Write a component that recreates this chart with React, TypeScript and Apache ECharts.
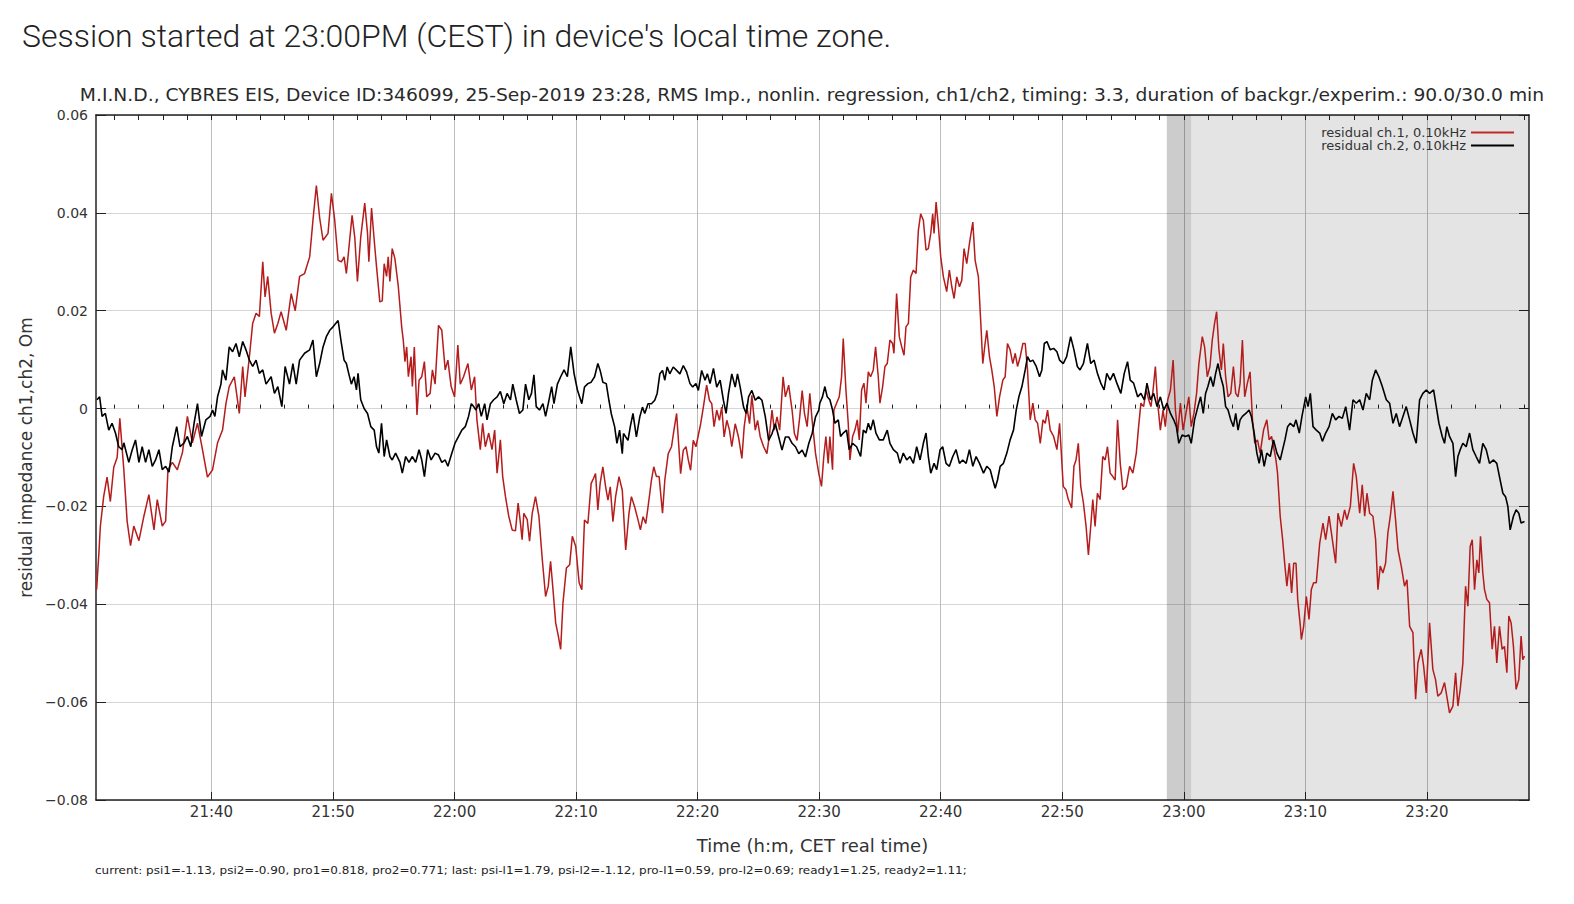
import React, { useEffect, useRef } from "react";
import * as echarts from "echarts";

// minutes after 21:30 (CET) -> residual impedance
const ch1: [number, number][] = [
  [0.55,-0.037],[0.75,-0.029],[0.86,-0.024],[1.13,-0.018],[1.41,-0.014],[1.68,-0.019],[1.96,-0.012],[2.24,-0.010],[2.46,-0.002],[2.79,-0.0125],[3.06,-0.023],[3.34,-0.028],[3.61,-0.024],[4.03,-0.027],[4.44,-0.022],[4.85,-0.0176],[5.27,-0.0248],[5.54,-0.0186],[5.95,-0.024],[6.23,-0.023],[6.42,-0.0125],[6.78,-0.011],[7.19,-0.0125],[7.61,-0.009],[8.02,-0.0016],[8.43,-0.007],[8.85,-0.003],[9.26,-0.0084],[9.67,-0.014],[10.09,-0.0125],[10.50,-0.007],[10.91,-0.0044],[11.19,0.001],[11.46,0.0045],[11.88,0.0065],[12.29,-0.001],[12.57,0.0086],[12.76,0.0024],[13.12,0.0106],[13.39,0.0174],[13.67,0.0195],[13.94,0.0188],[14.22,0.030],[14.41,0.0228],[14.63,0.027],[14.91,0.0195],[15.18,0.0154],[15.46,0.0174],[15.73,0.0198],[16.15,0.016],[16.56,0.0235],[16.89,0.020],[17.25,0.027],[17.66,0.0276],[18.08,0.031],[18.35,0.0385],[18.63,0.0456],[18.90,0.039],[19.18,0.0344],[19.59,0.0358],[19.87,0.044],[20.14,0.0385],[20.42,0.0303],
  [20.69,0.030],[20.91,0.031],[21.10,0.0276],[21.29,0.0324],[21.57,0.0395],[21.79,0.035],[22.01,0.026],[22.28,0.035],[22.61,0.042],[22.84,0.0358],[22.95,0.030],[23.17,0.041],[23.39,0.0344],[23.58,0.029],[23.85,0.0218],[24.05,0.022],[24.21,0.0296],[24.41,0.027],[24.54,0.031],[24.68,0.026],[24.87,0.0327],[25.09,0.0307],[25.37,0.025],[25.65,0.0167],[25.78,0.014],[25.92,0.0096],[26.06,0.0126],[26.20,0.0065],[26.42,0.0106],[26.53,0.0045],[26.69,0.0126],[26.91,-0.0013],[27.08,0.0058],[27.30,0.0065],[27.52,0.0096],[27.71,0.0024],[27.99,0.0031],[28.18,0.0079],[28.40,0.005],[28.68,0.017],[28.95,0.016],[29.23,0.0079],[29.45,0.0099],[29.72,0.0045],[30.00,0.0024],[30.27,0.013],[30.47,0.005],[30.74,0.0065],[31.10,0.0092],[31.38,0.0038],[31.65,0.0065],[31.84,-0.0023],[32.12,-0.0084],[32.31,-0.003],[32.53,-0.0078],[32.81,-0.005],[33.08,-0.0084],[33.30,-0.0044],[33.50,-0.0132],[33.77,-0.0064],[33.96,-0.0139],[34.19,-0.018],[34.46,-0.022],[34.74,-0.0248],[35.01,-0.025],[35.23,-0.0193],[35.42,-0.0234],[35.56,-0.0268],[35.70,-0.0214],[35.98,-0.0227],[36.17,-0.0271],[36.39,-0.0214],[36.66,-0.018],[36.94,-0.022],[37.22,-0.0309],[37.49,-0.0384],[37.71,-0.0363],[37.90,-0.0312],[38.10,-0.037],[38.32,-0.0438],[38.54,-0.0465],[38.73,-0.0492],[38.92,-0.0397],[39.20,-0.0326],[39.47,-0.0319],[39.69,-0.0261],[39.97,-0.0282],[40.25,-0.0356],[40.47,-0.037],
  [40.69,-0.0228],[40.97,-0.0235],[41.24,-0.0153],[41.43,-0.0143],[41.60,-0.0133],[41.79,-0.0207],[41.98,-0.0153],[42.20,-0.0119],[42.43,-0.016],[42.62,-0.0187],[42.81,-0.016],[43.03,-0.0231],[43.25,-0.018],[43.53,-0.0139],[43.80,-0.0167],[44.08,-0.0289],[44.35,-0.0214],[44.55,-0.018],[44.82,-0.0201],[45.10,-0.0228],[45.29,-0.0248],[45.51,-0.0221],[45.73,-0.0235],[45.92,-0.0201],[46.20,-0.0146],[46.39,-0.0119],[46.61,-0.0139],[46.83,-0.0139],[47.11,-0.0214],[47.30,-0.0146],[47.58,-0.0092],[47.85,-0.0078],[48.05,-0.0044],[48.27,-0.001],[48.40,-0.0058],[48.60,-0.0133],[48.82,-0.0085],[49.04,-0.0078],[49.23,-0.0105],[49.42,-0.0126],[49.64,-0.0065],[49.86,-0.0078],[50.06,-0.0054],[50.25,-0.0031],[50.47,0.0003],[50.74,0.0048],[50.97,0.0017],[51.16,0.001],[51.35,-0.0037],[51.57,-0.0003],[51.79,-0.0024],[51.98,0.0003],[52.18,-0.0058],[52.40,-0.0024],[52.62,-0.0044],[52.81,-0.0078],[53.09,-0.0031],[53.36,-0.0058],[53.64,-0.0102],[53.83,-0.0037],[54.05,0.0003],[54.27,-0.0031],[54.46,0.0027],[54.74,-0.0044],[54.93,-0.0024],[55.15,-0.0058],[55.43,-0.0078],[55.70,-0.0092],[55.92,-0.0051],[56.12,-0.0003],[56.31,-0.0044],[56.53,-0.0017],[56.75,-0.0044],[57.03,0.0065],[57.22,0.0024],[57.49,0.0048],[57.77,-0.0003],[57.96,-0.0051],[58.18,-0.0065],[58.40,-0.0017],[58.60,0.0037],[58.79,-0.001],[59.01,-0.0037],[59.23,0.0031],[59.42,-0.0024],[59.70,-0.0092],[59.97,-0.0133],
  [60.19,-0.0159],[60.38,-0.0098],[60.55,-0.0057],[60.74,-0.0112],[60.88,-0.0057],[61.10,-0.0125],[61.21,-0.0003],[61.43,0.0011],[61.65,0.0024],[61.84,0.0065],[61.98,0.0143],[62.20,0.0038],[62.39,-0.003],[62.53,-0.0105],[62.75,-0.0057],[62.94,-0.0044],[63.13,-0.0023],[63.30,-0.0064],[63.49,0.0038],[63.68,0.0052],[63.85,0.0011],[64.04,0.0075],[64.23,0.0065],[64.45,0.0079],[64.64,0.0126],[64.86,0.0065],[65.00,0.0011],[65.22,0.0045],[65.41,0.0086],[65.60,0.0092],[65.82,0.014],[66.04,0.0133],[66.15,0.0113],[66.37,0.0235],[66.59,0.0147],[66.79,0.0126],[66.98,0.0109],[67.14,0.0167],[67.34,0.0174],[67.53,0.0269],[67.75,0.0283],[67.97,0.0276],[68.16,0.0364],[68.35,0.0398],[68.57,0.0385],[68.79,0.0324],[68.98,0.0327],[69.18,0.0358],[69.34,0.0398],[69.45,0.0358],[69.62,0.0422],[69.81,0.0371],[70.00,0.031],[70.22,0.0269],[70.49,0.0239],[70.71,0.0283],[70.91,0.0249],[71.10,0.0225],[71.32,0.0269],[71.54,0.0249],[71.73,0.0262],[71.92,0.0327],[72.14,0.0296],[72.36,0.0337],[72.64,0.0381],[72.83,0.0303],[73.10,0.0269],[73.30,0.0174],[73.46,0.0092],[73.65,0.0133],[73.79,0.016],[74.01,0.0106],[74.20,0.0079],[74.40,0.0045],[74.62,-0.0016],[74.84,0.0024],[75.11,0.0058],[75.30,0.0065],[75.49,0.0133],[75.71,0.012],[75.93,0.0092],[76.13,0.0113],[76.32,0.0086],[76.54,0.0106],[76.76,0.0133],[76.95,0.0133],[77.14,0.0079],[77.36,-0.0023],[77.58,0.0011],[77.77,-0.0023],[77.97,-0.003],[78.19,-0.0071],[78.41,-0.0023],[78.60,-0.003],[78.79,-0.0003],[79.01,-0.0044],[79.29,-0.0057],[79.56,-0.0084],[79.78,-0.003],
  [80.08,-0.0159],[80.30,-0.0166],[80.50,-0.0186],[80.77,-0.0203],[80.96,-0.0118],[81.13,-0.0105],[81.32,-0.0071],[81.52,-0.0159],[81.74,-0.0193],[81.96,-0.0241],[82.15,-0.0299],[82.34,-0.0241],[82.51,-0.0186],[82.70,-0.0241],[82.89,-0.0173],[83.11,-0.0186],[83.33,-0.0098],[83.53,-0.0105],[83.72,-0.0078],[83.94,-0.0132],[84.16,-0.0139],[84.35,-0.0146],[84.55,-0.0023],[84.77,-0.0112],[84.99,-0.0166],[85.26,-0.0159],[85.54,-0.0118],[85.81,-0.0132],[86.09,-0.0091],[86.28,-0.0037],[86.47,0.0011],[86.69,0.0004],[86.91,0.0038],[87.11,0.0018],[87.30,0.0004],[87.47,0.0038],[87.66,0.0086],[87.85,0.0011],[88.07,-0.0044],[88.29,-0.0003],[88.48,-0.0037],[88.68,0.0018],[88.90,0.0038],[89.12,0.0099],[89.31,-0.0003],[89.50,-0.005],[89.72,0.0011],[89.94,-0.0044],[90.22,-0.0003],[90.41,0.0024],[90.61,-0.0037],[90.83,-0.001],[91.05,0.0031],[91.24,0.0092],[91.52,0.0147],[91.71,0.0126],[91.93,0.0065],[92.15,0.0086],[92.34,0.014],[92.53,0.0174],[92.70,0.0198],[92.89,0.012],[93.09,0.0079],[93.25,0.0133],[93.44,0.0065],[93.64,0.0024],[93.86,0.0031],[94.08,0.0086],[94.27,0.0031],[94.46,0.0024],[94.63,0.0052],[94.82,0.014],[95.01,0.0024],[95.23,0.0052],[95.45,0.0075],[95.65,-0.0023],[95.84,-0.0071],[96.06,-0.0064],[96.28,-0.0091],[96.56,-0.0044],[96.83,-0.0023],[97.02,-0.0064],[97.22,-0.0057],[97.38,-0.0078],[97.58,-0.0105],[97.71,-0.0132],[97.93,-0.022],[98.13,-0.0268],[98.32,-0.0322],[98.48,-0.0363],[98.68,-0.0316],[98.87,-0.0377],[99.04,-0.0316],[99.23,-0.0316],[99.37,-0.039],[99.59,-0.0445],
  [99.67,-0.0472],[99.86,-0.0445],[100.08,-0.0384],[100.30,-0.0431],[100.49,-0.037],[100.68,-0.0356],[100.90,-0.0356],[101.18,-0.0275],[101.45,-0.0234],[101.67,-0.0268],[101.95,-0.022],[102.22,-0.0268],[102.49,-0.0316],[102.68,-0.0214],[102.96,-0.0241],[103.23,-0.0207],[103.42,-0.0227],[103.70,-0.02],[103.97,-0.0112],[104.19,-0.0139],[104.47,-0.0214],[104.68,-0.0156],[104.88,-0.022],[105.07,-0.0173],[105.29,-0.0214],[105.56,-0.022],[105.78,-0.0268],[105.97,-0.037],[106.16,-0.0322],[106.38,-0.0336],[106.60,-0.0316],[106.79,-0.0254],[106.99,-0.022],[107.21,-0.0169],[107.42,-0.0227],[107.62,-0.0288],[107.89,-0.0322],[108.16,-0.0363],[108.36,-0.035],[108.58,-0.0445],[108.85,-0.0458],[109.07,-0.0594],[109.26,-0.052],[109.53,-0.0492],[109.73,-0.0526],[109.95,-0.0581],[110.22,-0.0438],[110.49,-0.0533],[110.71,-0.0554],[110.90,-0.0588],[111.18,-0.0581],[111.45,-0.056],[111.64,-0.0588],[111.86,-0.0622],[112.14,-0.0608],[112.36,-0.054],[112.55,-0.0608],[112.74,-0.0574],[112.96,-0.052],[113.18,-0.0363],[113.37,-0.0404],[113.56,-0.0282],[113.73,-0.0268],[113.92,-0.037],[114.11,-0.0309],[114.27,-0.0336],[114.41,-0.0261],[114.60,-0.0336],[114.74,-0.037],[114.93,-0.039],[115.15,-0.0397],[115.37,-0.0492],[115.56,-0.0445],[115.75,-0.052],[115.97,-0.0445],[116.19,-0.0492],[116.38,-0.0486],[116.58,-0.054],[116.74,-0.0424],[116.93,-0.0438],[117.12,-0.0486],[117.34,-0.0574],[117.56,-0.0554],[117.75,-0.0465],[117.89,-0.0513],[118.03,-0.0506],
];

const ch2: [number, number][] = [
  [0.58,0.0018],[0.80,0.0024],[1.00,-0.0016],[1.27,-0.001],[1.55,-0.0044],[1.82,-0.003],[2.10,-0.005],[2.37,-0.0078],[2.65,-0.0084],[2.79,-0.007],[3.20,-0.011],[3.48,-0.0084],[3.75,-0.0064],[4.03,-0.011],[4.30,-0.0078],[4.58,-0.011],[4.85,-0.0084],[5.13,-0.0118],[5.40,-0.0105],[5.68,-0.0084],[5.95,-0.0125],[6.23,-0.0118],[6.51,-0.013],[6.78,-0.0078],[7.14,-0.0037],[7.41,-0.0078],[7.75,-0.007],[8.02,-0.0057],[8.30,-0.0078],[8.57,-0.003],[8.85,0.001],[9.18,-0.0057],[9.54,-0.0023],[9.89,-0.0016],[10.09,-0.0003],[10.28,-0.0016],[10.50,0.0024],[10.78,0.005],[10.91,0.0079],[11.19,0.0058],[11.46,0.0126],[11.74,0.0116],[12.02,0.0133],[12.29,0.0106],[12.57,0.0137],[12.84,0.012],[13.12,0.0099],[13.39,0.0086],[13.67,0.0099],[13.94,0.0072],[14.22,0.0079],[14.49,0.005],[14.91,0.0065],[15.18,0.0031],[15.46,0.0045],[15.79,0.0004],[16.06,0.0086],[16.42,0.005],[16.70,0.0092],[16.97,0.005],[17.25,0.0099],[17.66,0.0113],[18.08,0.012],[18.35,0.014],[18.63,0.0065],[18.90,0.0092],[19.18,0.0126],[19.45,0.0147],[19.73,0.016],[20.00,0.0167],[20.42,0.018],
  [20.69,0.0133],[20.91,0.0099],[21.10,0.0092],[21.29,0.0072],[21.51,0.005],[21.73,0.0065],[21.93,0.0038],[22.06,0.0072],[22.28,0.0018],[22.56,0],[22.84,-0.001],[23.11,-0.0037],[23.39,-0.0044],[23.58,-0.0078],[23.77,-0.0091],[23.99,-0.003],[24.21,-0.0098],[24.41,-0.0064],[24.68,-0.0098],[24.87,-0.0105],[25.15,-0.0091],[25.51,-0.011],[25.70,-0.0132],[25.98,-0.0098],[26.25,-0.011],[26.53,-0.0098],[26.80,-0.011],[27.08,-0.0084],[27.30,-0.0105],[27.52,-0.0139],[27.79,-0.0084],[28.07,-0.0105],[28.40,-0.0091],[28.68,-0.0095],[28.95,-0.011],[29.23,-0.0105],[29.45,-0.0118],[29.78,-0.0091],[30.05,-0.007],[30.33,-0.0057],[30.60,-0.0044],[30.88,-0.0037],[31.15,-0.0016],[31.38,0.001],[31.57,0.0004],[31.76,-0.0003],[31.98,0.001],[32.20,-0.0016],[32.48,0.001],[32.67,-0.0023],[32.95,0.001],[33.22,0.0018],[33.50,0.0024],[33.77,0.0035],[34.05,0.001],[34.32,0.0031],[34.60,0.0018],[34.79,0.005],[35.07,0.0018],[35.34,-0.001],[35.62,-0.0003],[35.84,0.005],[36.11,0.0018],[36.33,0.0031],[36.53,0.0069],[36.72,0.0004],[36.99,-0.0003],[37.27,0.001],[37.49,-0.0016],[37.71,0.001],[37.99,0.0045],[38.18,0.001],[38.46,0.005],[38.73,0.0065],[39.01,0.0079],[39.28,0.0065],[39.56,0.0126],[39.83,0.0072],[40.11,0.0038],[40.47,0.001],
  [40.69,0.0044],[40.97,0.0051],[41.24,0.0054],[41.52,0.0065],[41.79,0.0092],[41.98,0.0078],[42.20,0.0054],[42.48,0.0051],[42.70,0.0017],[42.89,-0.001],[43.17,-0.0037],[43.36,-0.0071],[43.58,-0.0044],[43.80,-0.0092],[43.90,-0.0051],[44.27,-0.0065],[44.46,-0.0037],[44.68,-0.001],[44.96,-0.0058],[45.24,-0.0017],[45.46,0.0003],[45.65,-0.001],[45.92,0.001],[46.20,0.001],[46.47,0.0017],[46.67,0.0031],[46.89,0.0071],[47.11,0.0078],[47.30,0.0058],[47.49,0.0085],[47.71,0.0071],[47.99,0.0085],[48.27,0.0078],[48.54,0.0071],[48.82,0.0088],[49.09,0.0075],[49.37,0.0051],[49.59,0.0044],[49.86,0.0051],[50.06,0.0037],[50.33,0.0078],[50.61,0.0058],[50.80,0.0071],[51.02,0.0051],[51.30,0.0082],[51.57,0.0044],[51.85,0.0058],[52.12,0.0017],[52.34,-0.001],[52.54,0.0031],[52.81,0.0071],[53.09,0.0044],[53.28,0.0071],[53.50,0.0044],[53.78,0.0003],[54.00,-0.001],[54.19,0.0024],[54.46,0.0037],[54.74,0.0017],[55.01,0.0024],[55.29,0.0017],[55.57,-0.0017],[55.84,-0.0065],[56.12,-0.0051],[56.39,-0.0031],[56.67,-0.0058],[56.94,-0.0085],[57.22,-0.0058],[57.49,-0.0058],[57.77,-0.0071],[58.05,-0.0078],[58.32,-0.0092],[58.60,-0.0085],[58.87,-0.0099],[59.15,-0.0071],[59.42,-0.0051],[59.70,-0.0017],[59.97,-0.0003],
  [60.05,0.0011],[60.27,0.0024],[60.47,0.0045],[60.66,0.0024],[60.88,0.0018],[61.10,-0.0003],[61.29,-0.003],[61.57,-0.0023],[61.76,-0.0057],[61.98,-0.005],[62.25,-0.0044],[62.47,-0.0084],[62.75,-0.0071],[63.08,-0.0078],[63.41,-0.0098],[63.63,-0.0044],[63.85,-0.005],[64.04,-0.003],[64.23,-0.0044],[64.45,-0.0023],[64.67,-0.005],[64.95,-0.0064],[65.27,-0.0064],[65.60,-0.0044],[65.82,-0.0071],[66.10,-0.0084],[66.43,-0.0091],[66.65,-0.0112],[66.92,-0.0091],[67.20,-0.0105],[67.47,-0.0098],[67.75,-0.0112],[68.02,-0.0078],[68.30,-0.0105],[68.57,-0.0071],[68.79,-0.005],[68.98,-0.0098],[69.18,-0.0132],[69.45,-0.0112],[69.67,-0.0125],[69.95,-0.0084],[70.16,-0.0078],[70.44,-0.0112],[70.71,-0.0118],[70.99,-0.0098],[71.26,-0.0084],[71.54,-0.0112],[71.81,-0.0105],[72.09,-0.0112],[72.36,-0.0084],[72.64,-0.0118],[72.91,-0.0098],[73.19,-0.0112],[73.52,-0.0132],[73.79,-0.0118],[74.07,-0.0125],[74.29,-0.0146],[74.48,-0.0163],[74.67,-0.0146],[74.89,-0.0118],[75.16,-0.0112],[75.44,-0.0091],[75.71,-0.0064],[75.99,-0.0044],[76.21,-0.0003],[76.43,0.0024],[76.68,0.0045],[76.95,0.0079],[77.14,0.0106],[77.36,0.0096],[77.58,0.0099],[77.86,0.0086],[78.13,0.0065],[78.32,0.0079],[78.52,0.0133],[78.74,0.0137],[79.01,0.012],[79.29,0.0123],[79.56,0.0116],[79.78,0.0099],
  [80.08,0.0092],[80.36,0.0106],[80.69,0.0147],[80.96,0.012],[81.24,0.0086],[81.46,0.0079],[81.74,0.0092],[82.07,0.0133],[82.34,0.0092],[82.62,0.0099],[82.89,0.0072],[83.17,0.0052],[83.44,0.0038],[83.66,0.0072],[83.94,0.0058],[84.21,0.0072],[84.49,0.0052],[84.82,0.0031],[85.10,0.0072],[85.37,0.0096],[85.59,0.0058],[85.87,0.0052],[86.20,0.0024],[86.47,0.0031],[86.75,0.0018],[86.97,0.0052],[87.25,0.0018],[87.52,0.0031],[87.80,0.0004],[88.07,0.0024],[88.35,-0.0003],[88.62,0.0011],[88.90,-0.001],[89.17,-0.0023],[89.39,-0.0037],[89.59,-0.0071],[89.86,-0.0054],[90.14,-0.0057],[90.41,-0.0054],[90.61,-0.0071],[90.88,-0.0023],[91.16,0.0004],[91.38,0.0024],[91.60,-0.001],[91.79,0.0031],[91.98,0.0045],[92.20,0.0065],[92.42,0.0045],[92.62,0.0072],[92.81,0.0092],[93.03,0.0065],[93.25,0.0045],[93.44,0.0004],[93.64,-0.0003],[93.86,-0.0023],[94.08,-0.0037],[94.27,-0.001],[94.46,-0.0044],[94.63,-0.0023],[94.82,-0.0016],[95.10,-0.001],[95.37,-0.0003],[95.56,-0.0016],[95.79,-0.005],[96.01,-0.0091],[96.20,-0.0112],[96.39,-0.0084],[96.61,-0.0118],[96.83,-0.0091],[97.11,-0.0098],[97.38,-0.0064],[97.66,-0.0091],[97.93,-0.0105],[98.13,-0.0084],[98.32,-0.0064],[98.54,-0.0037],[98.76,-0.003],[99.04,-0.0037],[99.23,-0.0023],[99.50,-0.005],
  [99.72,-0.0016],[100.03,0.0024],[100.22,0.0004],[100.41,0.0031],[100.63,-0.0037],[100.90,-0.0044],[101.18,-0.005],[101.40,-0.0067],[101.67,-0.005],[101.95,-0.0037],[102.22,-0.001],[102.49,-0.0023],[102.77,-0.0016],[103.04,-0.002],[103.32,0.0004],[103.64,-0.0044],[103.92,0.0018],[104.19,0.0011],[104.47,0.0018],[104.74,-0.0003],[105.01,0.0031],[105.29,0.0018],[105.51,0.0058],[105.78,0.0079],[106.05,0.0065],[106.33,0.0045],[106.66,0.0018],[106.93,0.0011],[107.21,-0.003],[107.48,-0.001],[107.75,-0.0037],[108.03,-0.0016],[108.30,0.0004],[108.58,-0.0023],[108.85,-0.005],[109.12,-0.0071],[109.40,0.0018],[109.67,0.0031],[109.95,0.0038],[110.22,0.0031],[110.55,0.0038],[110.77,0.0004],[110.99,-0.003],[111.26,-0.0057],[111.45,-0.0071],[111.64,-0.0037],[111.86,-0.0057],[112.14,-0.0071],[112.36,-0.0139],[112.55,-0.0098],[112.74,-0.0084],[112.96,-0.0071],[113.23,-0.0078],[113.51,-0.005],[113.78,-0.0084],[114.05,-0.0098],[114.33,-0.0112],[114.60,-0.0071],[114.88,-0.0084],[115.15,-0.0112],[115.48,-0.0105],[115.75,-0.0112],[115.97,-0.0139],[116.25,-0.0173],[116.47,-0.018],[116.66,-0.02],[116.85,-0.0248],[117.12,-0.022],[117.34,-0.0207],[117.56,-0.0214],[117.75,-0.0234],[118.03,-0.0231],
];

const seriesNames = ["residual ch.1, 0.10kHz", "residual ch.2, 0.10kHz"];
const timeTickMinutes = [10, 20, 30, 40, 50, 60, 70, 80, 90, 100, 110];
const timeTickLabels = ["21:40", "21:50", "22:00", "22:10", "22:20", "22:30", "22:40", "22:50", "23:00", "23:10", "23:20"];
const transitionBand: [number, number] = [88.6, 90.6];
const experimentBand: [number, number] = [90.6, 118.4];

const HEADING = "Session started at 23:00PM (CEST) in device's local time zone.";
const TITLE = "M.I.N.D., CYBRES EIS, Device ID:346099, 25-Sep-2019 23:28, RMS Imp., nonlin. regression, ch1/ch2, timing: 3.3, duration of backgr./experim.: 90.0/30.0 min";
const FOOTER = "current: psi1=-1.13, psi2=-0.90, pro1=0.818, pro2=0.771; last: psi-l1=1.79, psi-l2=-1.12, pro-l1=0.59, pro-l2=0.69; ready1=1.25, ready2=1.11;";

const X_MIN = 0.5;
const X_MAX = 118.4;

export default function App() {
  const ref = useRef<HTMLDivElement>(null);
  useEffect(() => {
    if (!ref.current) return;
    const chart = echarts.init(ref.current, undefined, { renderer: "svg" });
    const minorTicks: number[] = [];
    for (let m = 2; m < X_MAX; m += 2) minorTicks.push(m);
    const font = "DejaVu Sans";
    const txt = "#333";
    const fmtY = (v: number) => {
      if (Math.abs(v) < 1e-9) return "0";
      return (v < 0 ? "\u2212" : "") + Math.abs(v).toFixed(2);
    };
    const fmtX = (v: number) => {
      const i = timeTickMinutes.indexOf(Math.round(v));
      return i >= 0 ? timeTickLabels[i] : "";
    };
    const baseX = { type: "value", min: X_MIN, max: X_MAX };
    chart.setOption({
      animation: false,
      backgroundColor: "#ffffff",
      textStyle: { fontFamily: font },
      graphic: [
        {
          type: "text", x: 22, y: 36,
          style: { text: HEADING, font: "300 32px Roboto", fill: "#222", align: "left", verticalAlign: "middle", textAlign: "left", textVerticalAlign: "middle" },
        },
        {
          type: "text", x: 812, y: 95, scaleX: 1.1,
          style: { text: TITLE, fontSize: 17, fontFamily: font, fill: "#2a2a2a", align: "center", verticalAlign: "middle", textAlign: "center", textVerticalAlign: "middle" },
        },
        {
          type: "text", x: 95, y: 870, scaleX: 1.09,
          style: { text: FOOTER, fontSize: 11, fontFamily: font, fill: "#222", align: "left", verticalAlign: "middle", textAlign: "left", textVerticalAlign: "middle" },
        },
      ],
      legend: {
        data: seriesNames,
        orient: "vertical",
        right: 60,
        top: 126,
        align: "right",
        padding: 0,
        itemGap: 0,
        itemWidth: 43,
        itemHeight: 2,
        icon: "rect",
        selectedMode: false,
        textStyle: { fontSize: 13, lineHeight: 12, color: txt, fontFamily: font },
      },
      grid: { left: 96, top: 115, width: 1433, height: 685, containLabel: false },
      xAxis: [
        {
          ...baseX,
          position: "bottom",
          name: "Time (h:m, CET real time)",
          nameLocation: "middle",
          nameGap: 36,
          nameTextStyle: { fontSize: 18, color: txt, fontFamily: font },
          axisLine: { show: true, onZero: false, lineStyle: { color: "#222", width: 1.5 } },
          axisTick: { show: true, inside: true, length: 8, customValues: timeTickMinutes, lineStyle: { color: "#222" } },
          axisLabel: { customValues: timeTickMinutes, formatter: fmtX, margin: 4, fontSize: 15, color: txt, fontFamily: font },
          splitLine: { show: true, lineStyle: { color: "#bdbdbd", width: 1 } },
        },
        {
          ...baseX,
          position: "bottom",
          axisLine: { show: false },
          axisTick: { show: true, inside: true, length: 4, customValues: minorTicks, lineStyle: { color: "#222" } },
          axisLabel: { show: false },
          splitLine: { show: false },
        },
        {
          ...baseX,
          position: "top",
          axisLine: { show: true, onZero: false, lineStyle: { color: "#222", width: 1.5 } },
          axisTick: { show: true, inside: true, length: 5, customValues: minorTicks, lineStyle: { color: "#222" } },
          axisLabel: { show: false },
          splitLine: { show: false },
        },
      ],
      yAxis: [
        {
          type: "value", min: -0.08, max: 0.06, interval: 0.02, position: "left",
          name: "residual impedance ch1,ch2, Om",
          nameLocation: "middle",
          nameGap: 43,
          nameTextStyle: { fontSize: 17, color: txt, fontFamily: font },
          axisLine: { show: true, onZero: false, lineStyle: { color: "#222", width: 1.5 } },
          axisTick: { show: true, inside: true, length: 10, lineStyle: { color: "#222" } },
          axisLabel: { formatter: fmtY, margin: 8, fontSize: 14, color: txt, fontFamily: font },
          splitLine: { show: true, lineStyle: { color: "#d6d6d6", width: 1 } },
        },
        {
          type: "value", min: -0.08, max: 0.06, interval: 0.02, position: "right",
          axisLine: { show: true, onZero: false, lineStyle: { color: "#222", width: 1.5 } },
          axisTick: { show: true, inside: true, length: 10, lineStyle: { color: "#222" } },
          axisLabel: { show: false },
          splitLine: { show: false },
        },
      ],
      series: [
        {
          name: "shading",
          type: "line",
          data: [],
          z: 1,
          silent: true,
          markArea: {
            silent: true,
            label: { show: false },
            data: [
              [{ xAxis: transitionBand[0], itemStyle: { color: "rgba(0,0,0,0.2)" } }, { xAxis: transitionBand[1] }],
              [{ xAxis: experimentBand[0], itemStyle: { color: "rgba(0,0,0,0.105)" } }, { xAxis: experimentBand[1] }],
            ],
          },
        },
        {
          name: seriesNames[0],
          type: "line",
          data: ch1,
          showSymbol: false,
          symbol: "none",
          color: "#c0282a",
          lineStyle: { color: "#b51c1c", width: 1.5 },
          z: 3,
        },
        {
          name: seriesNames[1],
          type: "line",
          data: ch2,
          showSymbol: false,
          symbol: "none",
          color: "#000",
          lineStyle: { color: "#000", width: 1.6 },
          z: 4,
        },
      ],
    });
    return () => chart.dispose();
  }, []);
  return <div ref={ref} style={{ position: "fixed", left: 0, top: 0, width: 1574, height: 904, background: "#fff" }} />;
}
